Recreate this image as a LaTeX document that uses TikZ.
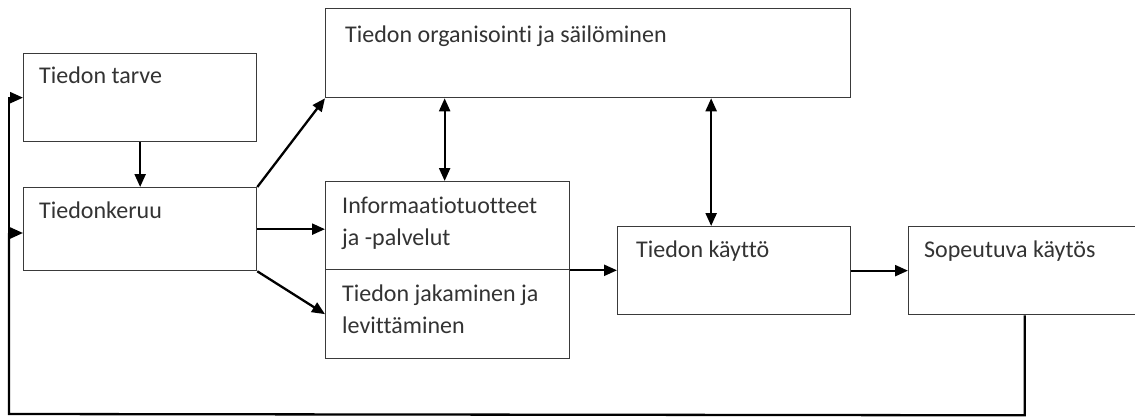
\documentclass[tikz,border=0pt]{standalone}
\usepackage{fontspec}
\setmainfont{Carlito}[Ligatures=NoCommon]
\usetikzlibrary{arrows.meta,calc}
\definecolor{edge}{HTML}{3A3A3A}
\definecolor{ink}{HTML}{333333}
\tikzset{
  box/.style={draw=edge, line width=1.3pt, fill=white, inner sep=0pt, anchor=north west},
  lbl/.style={anchor=base west, inner sep=0pt, align=left, text=ink,
              font=\fontsize{24}{32}\selectfont},
  tip/.tip={Triangle[length=13pt,width=11pt]},
  arr/.style={draw=black, line width=2.3pt, -tip},
  biarr/.style={draw=black, line width=2.3pt, tip-tip},
  loopline/.style={draw=black, line width=2.3pt}
}
\newcommand{\stagebox}[5]{%
  \node[box, minimum width=#4pt-#2pt, minimum height=#5pt-#3pt] (#1) at (#2,#3) {};}
\begin{document}
\begin{tikzpicture}[x=1pt,y=-1pt]
  \useasboundingbox (0,0) rectangle (1135,416);
  \clip (0,0) rectangle (1135,416);

  % stages of the process
  \stagebox{tarve}{23}{53}{256}{141}
  \stagebox{keruu}{23}{187}{256}{270}
  \stagebox{org}{325}{8}{850}{97}
  \stagebox{info}{325}{181}{569}{269}
  \stagebox{jak}{325}{269}{569}{358}
  \stagebox{kaytto}{617}{226}{850}{314}
  \stagebox{sop}{908}{226}{1140}{314}

  % their labels (base anchor = baseline of the last line)
  \node[lbl] (tTarve) at (39,83) {Tiedon tarve};
  \node[lbl] (tKeruu) at (39,218) {Tiedonkeruu};
  \node[lbl] (tOrg) at (345,42) {Tiedon organisointi ja säilöminen};
  \node[lbl] (tInfo) at (342,245) {Informaatiotuotteet\\ja -palvelut};
  \node[lbl] (tJak) at (342,333) {Tiedon jakaminen ja\\levittäminen};
  \node[lbl] (tKaytto) at (636,257) {Tiedon käyttö};
  \node[lbl] (tSop) at (924,257) {Sopeutuva käytös};

  % forward flow
  \draw[arr] (tarve.south) -- (keruu.north);
  \draw[arr] (keruu.north east) -- (org.south west);
  \draw[arr] (keruu.east) -- (keruu.east -| info.west);
  \draw[arr] (keruu.south east) -- (jak.west);
  \draw[arr] (info.south east) -- (info.south east -| kaytto.west);
  \draw[arr] (kaytto.east) -- (kaytto.east -| sop.west);

  % two-way links with the store
  \path (info.north) ++(-3,0) coordinate (infoTop);
  \path (kaytto.north) ++(-23,0) coordinate (kayttoTop);
  \draw[biarr] (infoTop) -- (infoTop |- org.south);
  \draw[biarr] (kayttoTop) -- (kayttoTop |- org.south);

  % feedback loop
  \path (sop.south) ++(0,100) coordinate (loopR);
  \coordinate (loopL) at (9,414);
  \coordinate (tapK) at (9,233);
  \draw[loopline] (sop.south) -- (loopR) -- (loopL) -- (tapK);
  \draw[arr] (loopL) |- (tarve.west);
  \draw[arr] (tapK) -- (tapK -| keruu.west);
\end{tikzpicture}
\end{document}
